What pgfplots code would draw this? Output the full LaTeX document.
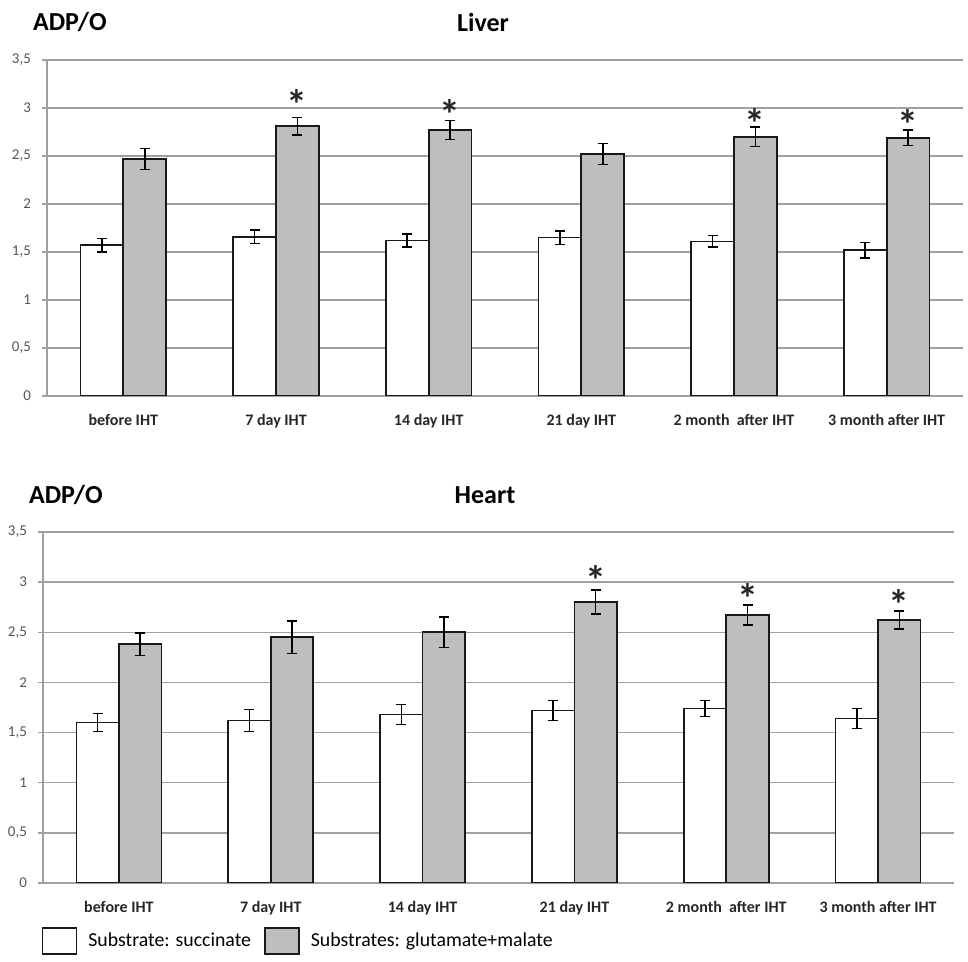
\documentclass[border=0pt]{standalone}
\usepackage{fontspec}
\setmainfont{Carlito}
\usepackage{pgfplots}
\usepackage{pgfplotstable}
\pgfplotsset{compat=1.18}
\definecolor{gridgray}{HTML}{A0A0A0}
\definecolor{labgray}{HTML}{555555}
\definecolor{barfill}{HTML}{BEBEBE}

\pgfplotstableread{
x s se g ge
0 1.57 0.07 2.47 0.11
1 1.66 0.07 2.81 0.09
2 1.62 0.07 2.77 0.10
3 1.65 0.07 2.52 0.11
4 1.61 0.06 2.70 0.10
5 1.52 0.08 2.69 0.08
}\liver

\pgfplotstableread{
x s se g ge
0 1.60 0.09 2.38 0.11
1 1.62 0.11 2.45 0.16
2 1.68 0.10 2.50 0.15
3 1.72 0.10 2.80 0.12
4 1.74 0.08 2.67 0.10
5 1.64 0.10 2.62 0.09
}\heart

\tikzset{signif/.style={font=\bfseries\fontsize{21}{21}\selectfont, text=black!85}}

\pgfplotsset{
  mybars/.style={
    scale only axis,
    anchor=south west,
    ybar, bar width=0.28,
    xmin=-0.5, xmax=5.5, ymin=0, ymax=3.5,
    ytick={0,0.5,...,3.5},
    xtick={0,...,5},
    xticklabels={before IHT, 7 day IHT, 14 day IHT, 21 day IHT, 2 month~ after IHT, 3 month after IHT},
    axis lines*=left,
    axis line style={gridgray, line width=0.7pt},
    ymajorgrids, grid style={gridgray, line width=0.7pt},
    tick align=outside,
    major tick length=2.5pt,
    y tick style={gridgray, line width=0.7pt},
    x tick style={draw=none},
    /pgf/number format/use comma,
    /pgf/number format/assume math mode=true,
    yticklabel style={font=\fontsize{7.5}{8}\selectfont, text=labgray, xshift=-2pt},
    xticklabel style={font=\bfseries\fontsize{8}{9}\selectfont, text=black!85, yshift=-3pt},
    error bars/y dir=both, error bars/y explicit,
    error bars/error bar style={black, line width=0.8pt},
    error bars/error mark options={rotate=90, mark size=2.5pt, black, line width=0.8pt},
  },
  succ/.style={draw=black!90, fill=white, line width=0.9pt, bar shift=-0.14},
  glut/.style={draw=black!90, fill=barfill, line width=0.9pt, bar shift=0.14},
}

\begin{document}
\begin{tikzpicture}
\path[use as bounding box] (0,0) rectangle (484pt,481pt);

% Liver
\begin{axis}[mybars, at={(23.5pt,283pt)}, width=458pt, height=168pt]
\addplot[succ] table[x=x, y=s, y error=se] {\liver};
\addplot[glut] table[x=x, y=g, y error=ge] {\liver};
\node[signif] at (axis cs:1.14,3.04) {*};
\node[signif] at (axis cs:2.14,2.93) {*};
\node[signif] at (axis cs:4.14,2.84) {*};
\node[signif] at (axis cs:5.14,2.83) {*};
\end{axis}
\node[anchor=west, font=\bfseries\fontsize{13}{14}\selectfont] at (13pt,470pt) {ADP/O};
\node[font=\bfseries\fontsize{13}{14}\selectfont] at (241.5pt,470pt) {Liver};

% Heart
\begin{axis}[mybars, at={(21.5pt,39.5pt)}, width=455.5pt, height=175.5pt,
  legend columns=2,
  legend style={at={(-0.002,-0.165)}, anchor=west, draw=none, fill=none, inner sep=0pt,
    font=\fontsize{9.9}{10}\selectfont,
    /tikz/every odd column/.append style={column sep=3.5pt},
    /tikz/every even column/.append style={column sep=4.5pt}},
  legend image code/.code={\draw[#1, line width=0.9pt] (0pt,-6.5pt) rectangle (17pt,6.5pt);},
]
\addplot[succ] table[x=x, y=s, y error=se] {\heart};
\addlegendentry{Substrate: succinate}
\addplot[glut] table[x=x, y=g, y error=ge] {\heart};
\addlegendentry{Substrates: glutamate+malate}
\node[signif] at (axis cs:3.14,3.02) {*};
\node[signif] at (axis cs:4.14,2.84) {*};
\node[signif] at (axis cs:5.14,2.78) {*};
\end{axis}
\node[anchor=west, font=\bfseries\fontsize{13}{14}\selectfont] at (11pt,233.5pt) {ADP/O};
\node[font=\bfseries\fontsize{13}{14}\selectfont] at (242.5pt,233.5pt) {Heart};
\end{tikzpicture}
\end{document}
